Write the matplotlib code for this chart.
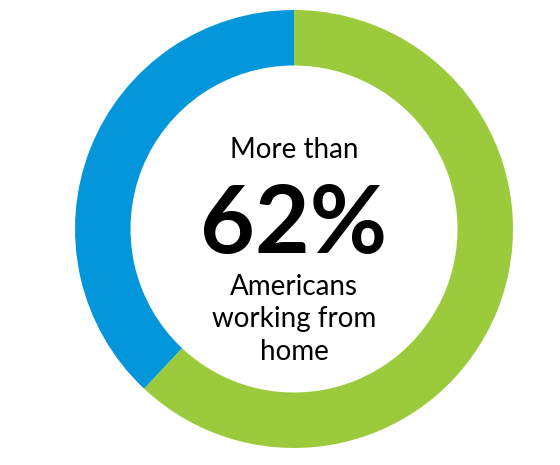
import matplotlib
matplotlib.use("Agg")
import matplotlib.pyplot as plt

# share of Americans working from home
labels = ["Working from home", "Other"]
values = [62, 38]
colors = ["#9BCB3C", "#0396DA"]

headline = "62%"
top_text = "More than"
bottom_lines = ["Americans", "working from", "home"]

W, H = 560, 465
fig = plt.figure(figsize=(W / 100, H / 100), dpi=100)
ax = fig.add_axes([0, 0, 1, 1])
ax.set_xlim(0, W)
ax.set_ylim(0, H)
ax.axis("off")

cx, cy = 294, H - 229
r_out, r_in = 219, 163.5

ax.pie(values, colors=colors, startangle=90, counterclock=False,
       center=(cx, cy), radius=r_out, frame=True,
       wedgeprops=dict(width=r_out - r_in, linewidth=0))
ax.set_xlim(0, W)
ax.set_ylim(0, H)
ax.axis("off")

font = "Lato"
ax.text(cx, H - 158, top_text, ha="center", va="baseline", fontsize=20, family=font)
ax.text(cx, H - 253, headline, ha="center", va="baseline", fontsize=68,
        family=font, fontweight="bold")
for i, line in enumerate(bottom_lines):
    ax.text(cx, H - 295 - i * 32.5, line, ha="center", va="baseline",
            fontsize=20, family=font)

fig.savefig("out.png", dpi=100)
